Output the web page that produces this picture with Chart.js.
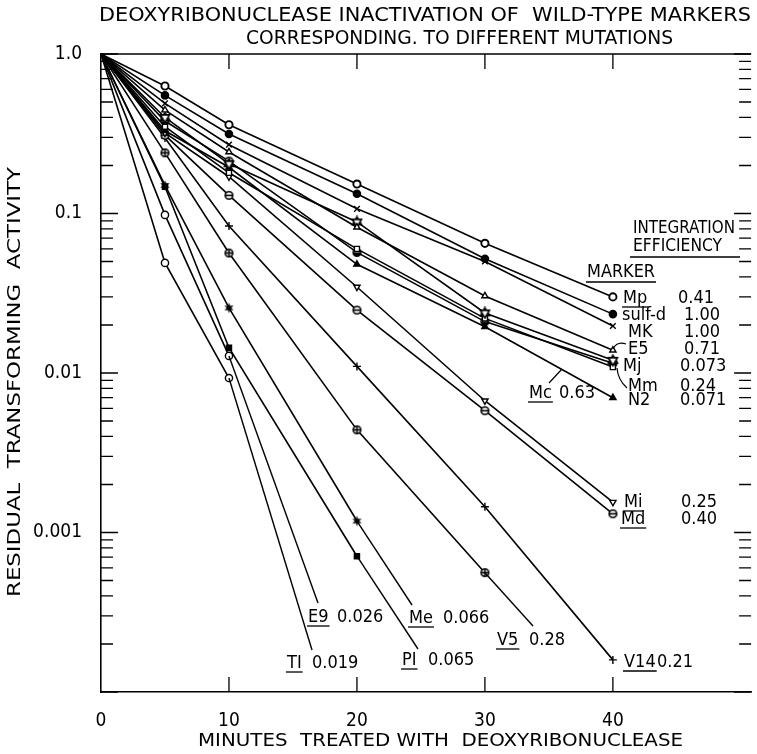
<!DOCTYPE html>
<html>
<head>
<meta charset="utf-8">
<script src="https://cdn.jsdelivr.net/npm/chart.js@4.4.1/dist/chart.umd.min.js"></script>
<style>
  html, body { margin: 0; padding: 0; background: #fff; }
  #wrap { width: 757px; height: 754px; }
</style>
</head>
<body>
<div id="wrap"><canvas id="dnaseChart" width="757" height="754"></canvas></div>
<script>
// minutes of DNase treatment
const minutes = [0, 5, 10, 20, 30, 40];

// residual transforming activity per marker
const mpValues    = [1, 0.63, 0.36, 0.153, 0.065, 0.030];
const sulfdValues = [1, 0.55, 0.315, 0.133, 0.052, 0.0234];
const mkValues    = [1, 0.49, 0.27, 0.107, 0.050, 0.0197];
const e5Values    = [1, 0.445, 0.243, 0.082, 0.0304, 0.0139];
const mcValues    = [1, 0.40, 0.205, 0.0885, 0.0238, 0.0120];
const mjValues    = [1, 0.35, 0.18, 0.060, 0.022, 0.0109];
const mmValues    = [1, 0.38, 0.213, 0.057, 0.021, 0.0115];
const n2Values    = [1, 0.33, 0.195, 0.048, 0.0195, 0.0070];
const miValues    = [1, 0.32, 0.17, 0.0346, 0.0067, 0.00155];
const mdValues    = [1, 0.31, 0.13, 0.0248, 0.0058, 0.00131];
const v14Values   = [1, 0.297, 0.0835, 0.011, 0.00145, 0.000159];
const v5Values    = [1, 0.24, 0.0565, 0.0044, 0.00056];
const meValues    = [1, 0.15, 0.0256, 0.00118];
const piValues    = [1, 0.147, 0.0144, 0.00071];
const e9Values    = [1, 0.098, 0.0128];
const tiValues    = [1, 0.049, 0.0093];

const yTickLabels = { '0': '1.0', '-1': '0.1', '-2': '0.01', '-3': '0.001' };
const xTickLabels = [0, 10, 20, 30, 40];

const FONT = '"Liberation Sans Narrow", "DejaVu Sans Condensed", sans-serif';

function makeMarker(draw) {
  const c = document.createElement('canvas');
  c.width = 13; c.height = 13;
  const g = c.getContext('2d');
  g.translate(6.5, 6.5);
  g.strokeStyle = '#000';
  g.fillStyle = '#000';
  g.lineWidth = 1.6;
  draw(g);
  return c;
}

function ring(g) {
  g.beginPath();
  g.arc(0, 0, 3.8, 0, Math.PI * 2);
  g.fillStyle = '#fff';
  g.fill();
  g.stroke();
}

const circleMinus = makeMarker(g => {
  ring(g);
  g.beginPath(); g.moveTo(-3.8, 0); g.lineTo(3.8, 0); g.stroke();
});
const circlePlus = makeMarker(g => {
  ring(g);
  g.beginPath(); g.moveTo(-3.8, 0); g.lineTo(3.8, 0);
  g.moveTo(0, -3.8); g.lineTo(0, 3.8); g.stroke();
});
const halfCircle = makeMarker(g => {
  ring(g);
  g.beginPath(); g.arc(0, 0, 3.8, 0, Math.PI); g.closePath();
  g.fillStyle = '#000'; g.fill();
});
const openStar = makeMarker(g => {
  g.fillStyle = '#fff';
  for (const rot of [0, Math.PI]) {
    g.beginPath();
    for (let k = 0; k < 3; k++) {
      const a = rot - Math.PI / 2 + k * 2 * Math.PI / 3;
      g.lineTo(5.2 * Math.cos(a), 5.2 * Math.sin(a));
    }
    g.closePath();
    g.fill();
    g.stroke();
  }
});
const filledStar = makeMarker(g => {
  g.beginPath();
  for (let k = 0; k < 12; k++) {
    const r = k % 2 ? 2.4 : 5.2;
    const a = -Math.PI / 2 + k * Math.PI / 6;
    g.lineTo(r * Math.cos(a), r * Math.sin(a));
  }
  g.closePath();
  g.fill();
});

const series = [
  { name: 'Mp',     values: mpValues,    style: 'circle',   fill: '#fff', bw: 1.9 },
  { name: 'sulf-d', values: sulfdValues, style: 'circle',   fill: '#000' },
  { name: 'MK',     values: mkValues,    style: 'crossRot', fill: '#000', r: 4 },
  { name: 'E5',     values: e5Values,    style: 'triangle', fill: '#fff' },
  { name: 'Mc',     values: mcValues,    style: openStar },
  { name: 'Mj',     values: mjValues,    style: 'rect',     fill: '#fff' },
  { name: 'Mm',     values: mmValues,    style: halfCircle },
  { name: 'N2',     values: n2Values,    style: 'triangle', fill: '#000' },
  { name: 'Mi',     values: miValues,    style: 'triangle', fill: '#fff', rot: 180 },
  { name: 'Md',     values: mdValues,    style: circleMinus },
  { name: 'V14',    values: v14Values,   style: 'cross',    fill: '#000', r: 4 },
  { name: 'V5',     values: v5Values,    style: circlePlus },
  { name: 'Me',     values: meValues,    style: filledStar },
  { name: 'PI',     values: piValues,    style: 'rect',     fill: '#000' },
  { name: 'E9',     values: e9Values,    style: 'circle',   fill: '#fff' },
  { name: 'TI',     values: tiValues,    style: 'circle',   fill: '#fff' }
];

// label placement (canvas pixels) for names and integration efficiencies
const labels = [
  { name: 'Mp',     x: 623, y: 298, eff: '0.41',  ex: 678, u: true },
  { name: 'sulf-d', x: 622, y: 315, eff: '1.00',  ex: 684 },
  { name: 'MK',     x: 628, y: 332, eff: '1.00',  ex: 684 },
  { name: 'E5',     x: 628, y: 349, eff: '0.71',  ex: 684 },
  { name: 'Mj',     x: 623, y: 366, eff: '0.073', ex: 680 },
  { name: 'Mm',     x: 628, y: 386, eff: '0.24',  ex: 680 },
  { name: 'N2',     x: 628, y: 400, eff: '0.071', ex: 680 },
  { name: 'Mc',     x: 529, y: 393, eff: '0.63',  ex: 559, u: true },
  { name: 'Mi',     x: 624, y: 502, eff: '0.25',  ex: 681, u: true },
  { name: 'Md',     x: 621, y: 519, eff: '0.40',  ex: 681, u: true },
  { name: 'V14',    x: 624, y: 662, eff: '0.21',  ex: 657, u: true },
  { name: 'V5',     x: 497, y: 640, eff: '0.28',  ex: 529, u: true },
  { name: 'Me',     x: 409, y: 618, eff: '0.066', ex: 443, u: true },
  { name: 'PI',     x: 402, y: 660, eff: '0.065', ex: 428, u: true },
  { name: 'E9',     x: 308, y: 617, eff: '0.026', ex: 337, u: true },
  { name: 'TI',     x: 287, y: 663, eff: '0.019', ex: 312, u: true }
];

// leader lines from the last measured point to the label
const leaders = [
  { name: 'V5', to: [533, 626] },
  { name: 'Me', to: [412, 605] },
  { name: 'PI', to: [418, 649] },
  { name: 'E9', to: [318, 603] },
  { name: 'TI', to: [312, 650] }
];

function fitText(ctx, text, left, y, width) {
  const w = ctx.measureText(text).width;
  ctx.save();
  ctx.translate(left, y);
  ctx.scale(width / w, 1);
  ctx.textAlign = 'left';
  ctx.fillText(text, 0, 0);
  ctx.restore();
}

const decorations = {
  id: 'decorations',
  afterDatasetsDraw(chart) {
    const ctx = chart.ctx;
    const { left, right, top, bottom } = chart.chartArea;
    const xs = chart.scales.x;
    const ys = chart.scales.y;
    ctx.save();
    ctx.strokeStyle = '#000';
    ctx.fillStyle = '#000';
    ctx.lineWidth = 1.5;

    // top frame line
    ctx.beginPath();
    ctx.moveTo(left, top); ctx.lineTo(right, top);
    ctx.stroke();

    // inward log ticks on both sides
    ctx.lineWidth = 1.3;
    for (let e = -4; e <= 0; e++) {
      for (let m = 1; m <= 9; m++) {
        const v = m * Math.pow(10, e);
        if (v > 1.0001) continue;
        const py = ys.getPixelForValue(v);
        const len = m === 1 ? 17 : 12;
        ctx.beginPath();
        ctx.moveTo(left, py); ctx.lineTo(left + len, py);
        ctx.moveTo(right, py); ctx.lineTo(right - len, py);
        ctx.stroke();
      }
    }
    // inward minute ticks top and bottom
    xTickLabels.slice(1).forEach(t => {
      const px = xs.getPixelForValue(t);
      ctx.beginPath();
      ctx.moveTo(px, bottom); ctx.lineTo(px, bottom - 15);
      ctx.moveTo(px, top); ctx.lineTo(px, top + 15);
      ctx.stroke();
    });

    // leaders
    ctx.lineWidth = 1.4;
    leaders.forEach(l => {
      const idx = series.findIndex(s => s.name === l.name);
      const pts = chart.getDatasetMeta(idx).data;
      const p = pts[pts.length - 1];
      ctx.beginPath();
      ctx.moveTo(p.x, p.y); ctx.lineTo(l.to[0], l.to[1]);
      ctx.stroke();
    });
    // small curved leaders in the right cluster
    ctx.lineWidth = 1.2;
    ctx.beginPath();
    ctx.moveTo(613, 349); ctx.quadraticCurveTo(617, 341, 626, 344); // E5
    ctx.moveTo(617, 368); ctx.quadraticCurveTo(618, 380, 627, 388); // Mm
    ctx.moveTo(549, 383); ctx.lineTo(562, 369);                     // Mc
    ctx.stroke();

    // titles
    ctx.textBaseline = 'middle';
    ctx.font = '19px ' + FONT;
    fitText(ctx, 'DEOXYRIBONUCLEASE INACTIVATION OF  WILD-TYPE MARKERS', 99, 16, 652);
    fitText(ctx, 'CORRESPONDING. TO DIFFERENT MUTATIONS', 246, 39, 427);
    ctx.font = '18px ' + FONT;
    fitText(ctx, 'MINUTES  TREATED WITH  DEOXYRIBONUCLEASE', 198, 741, 485);
    ctx.save();
    ctx.translate(15, 597);
    ctx.rotate(-Math.PI / 2);
    fitText(ctx, 'RESIDUAL  TRANSFORMING  ACTIVITY', 0, 0, 430);
    ctx.restore();

    // legend header
    ctx.font = '17px ' + FONT;
    fitText(ctx, 'INTEGRATION', 633, 229, 102);
    fitText(ctx, 'EFFICIENCY', 633, 247, 89);
    fitText(ctx, 'MARKER', 587, 273, 68);
    ctx.lineWidth = 1.3;
    ctx.beginPath();
    ctx.moveTo(630, 257); ctx.lineTo(740, 257);
    ctx.moveTo(586, 282); ctx.lineTo(656, 282);
    ctx.stroke();

    // marker names and efficiencies
    ctx.font = '18px ' + FONT;
    ctx.textAlign = 'left';
    labels.forEach(l => {
      ctx.fillText(l.name, l.x, l.y);
      ctx.fillText(l.eff, l.ex, l.y);
      if (l.u) {
        const w = ctx.measureText(l.name).width;
        ctx.beginPath();
        ctx.moveTo(l.x - 1, l.y + 9); ctx.lineTo(l.x + w + 1, l.y + 9);
        ctx.stroke();
      }
    });
    ctx.restore();
  }
};

new Chart(document.getElementById('dnaseChart'), {
  type: 'line',
  data: {
    datasets: series.map(s => ({
      label: s.name,
      data: s.values.map((v, i) => ({ x: minutes[i], y: v })),
      borderColor: '#000',
      borderWidth: 1.6,
      backgroundColor: s.fill || '#000',
      pointBackgroundColor: s.fill || '#000',
      pointBorderColor: '#000',
      pointBorderWidth: s.bw || 1.4,
      pointStyle: s.style,
      pointRotation: s.rot || 0,
      pointRadius: s.values.map((v, i) => (i === 0 ? 0 : (s.r || 3.6))),
      tension: 0,
      fill: false
    }))
  },
  options: {
    responsive: false,
    animation: false,
    events: [],
    layout: { padding: { top: 54, right: 0, left: 0, bottom: 0 } },
    plugins: {
      legend: { display: false },
      tooltip: { enabled: false },
      title: { display: false }
    },
    scales: {
      x: {
        type: 'linear',
        min: 0,
        max: 50.8,
        afterFit(scale) { scale.height = 62; },
        afterBuildTicks(scale) {
          scale.ticks = xTickLabels.map(v => ({ value: v }));
        },
        grid: { display: false, drawTicks: false },
        border: { display: true, color: '#000', width: 1.6 },
        ticks: {
          autoSkip: false,
          maxRotation: 0,
          padding: 18,
          color: '#000',
          font: { family: FONT, size: 19 },
          callback: v => String(v)
        }
      },
      y: {
        type: 'logarithmic',
        min: 0.0001,
        max: 1,
        afterFit(scale) { scale.width = 101; },
        afterBuildTicks(scale) {
          scale.ticks = Object.keys(yTickLabels).map(e => ({ value: Math.pow(10, Number(e)) }));
        },
        grid: { display: false, drawTicks: false },
        border: { display: true, color: '#000', width: 1.6 },
        ticks: {
          autoSkip: false,
          padding: 19,
          color: '#000',
          font: { family: FONT, size: 19 },
          callback: v => yTickLabels[String(Math.round(Math.log10(v)))] || ''
        }
      }
    }
  },
  plugins: [decorations]
});
</script>
</body>
</html>
